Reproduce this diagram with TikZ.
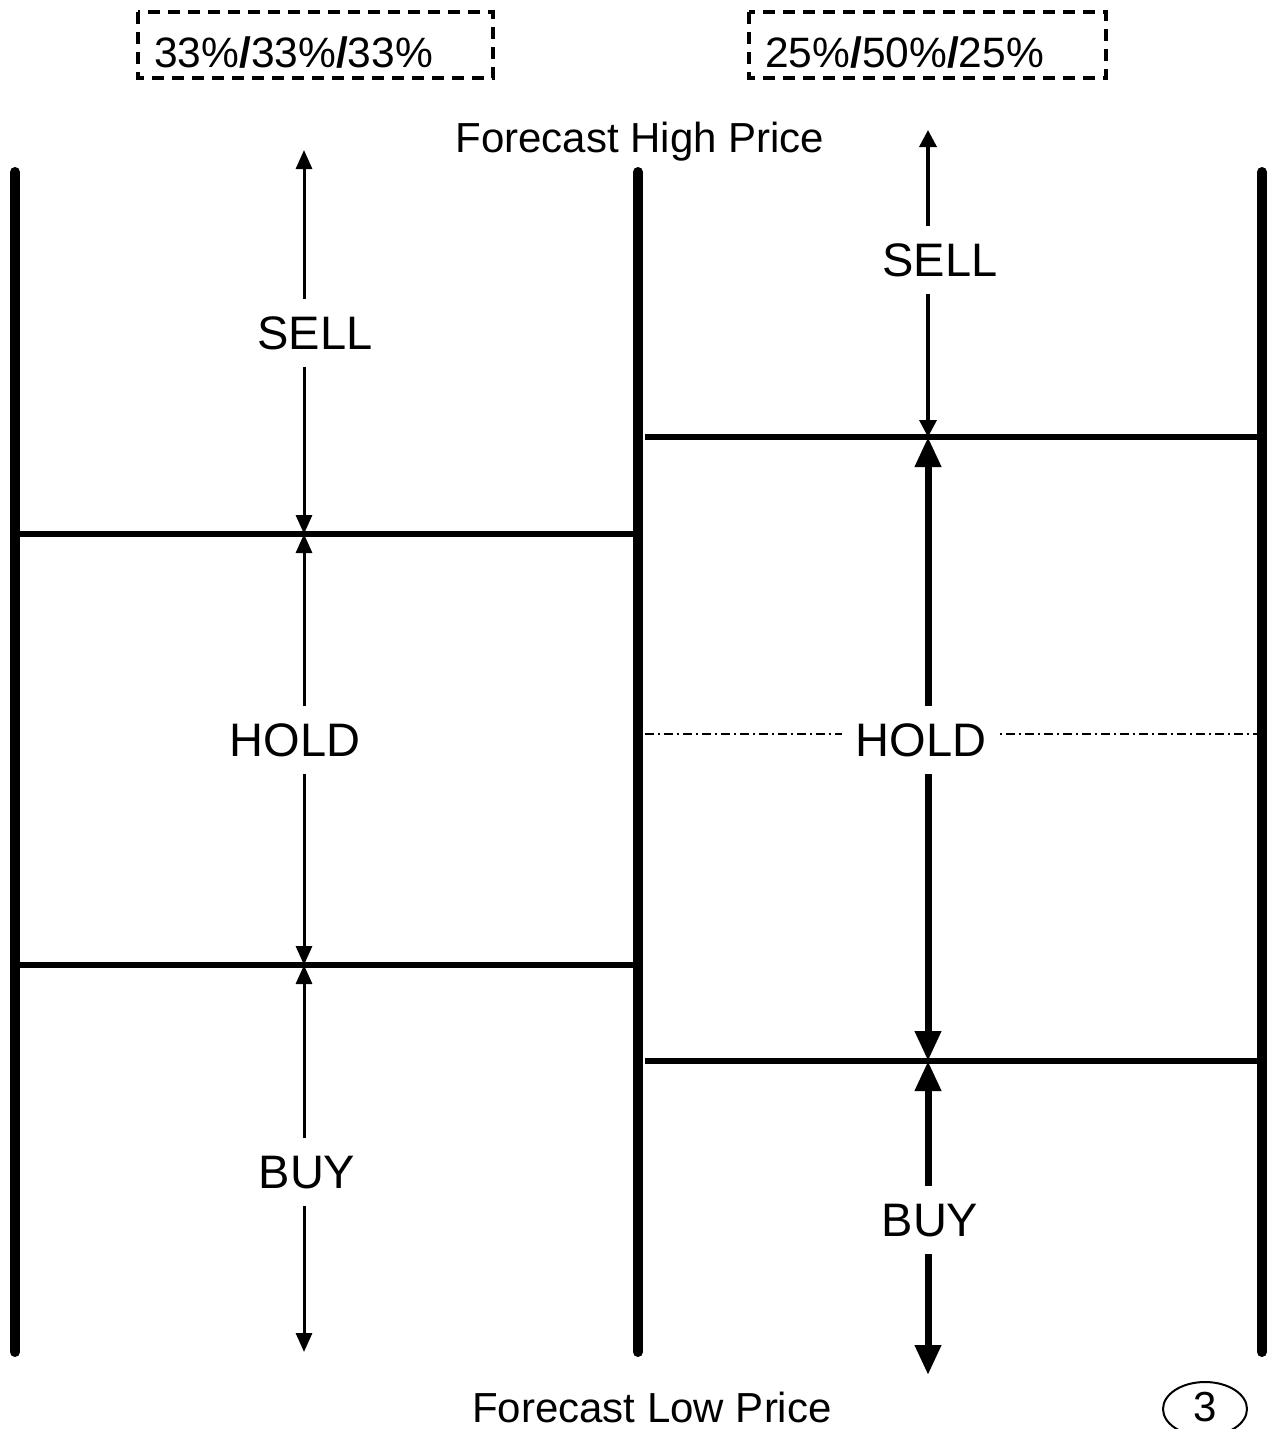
\documentclass[tikz,border=0pt]{standalone}
\usepackage{fontspec}
\setmainfont{Liberation Sans}
\usetikzlibrary{arrows.meta,shapes.geometric}
\tikzset{
  post/.style={line width=10pt,line cap=round},
  rung/.style={line width=6pt},
  thinarrow/.style={line width=3pt,{Triangle[width=16pt,length=19pt]}-{Triangle[width=16pt,length=19pt]}},
  thickarrow/.style={line width=7pt,{Triangle[width=25pt,length=30pt]}-{Triangle[width=25pt,length=30pt]}},
  lbl/.style={fill=white,inner xsep=14pt,inner ysep=18pt,font=\fontsize{47}{56}\selectfont,text depth=0pt},
  plain/.style={inner sep=0pt,font=\fontsize{42}{50}\selectfont},
  pctbox/.style={draw,line width=4pt,dash pattern=on 12pt off 8pt},
}
\begin{document}
\begin{tikzpicture}[x=1pt,y=-1pt]
\useasboundingbox (0,0) rectangle (1272,1429);
% percentage boxes
\draw[pctbox] (138,12) rectangle (493,78);
\draw[pctbox] (749,12) rectangle (1106,78);
\node[plain,anchor=base west,font=\fontsize{42.5}{50}\selectfont] (p1) at (154,67) {33\%\textbf{/}33\%\textbf{/}33\%};
\node[plain,anchor=base west,font=\fontsize{42.5}{50}\selectfont] (p2) at (765,67) {25\%\textbf{/}50\%\textbf{/}25\%};
% titles
\node[plain,anchor=base] (hi) at (640,152) {Forecast High Price};
\node[plain,anchor=base] (lo) at (652,1422) {Forecast Low Price};
% posts
\coordinate (L1) at (15,172); \coordinate (L2) at (15,1352);
\coordinate (M1) at (638,172); \coordinate (M2) at (638,1352);
\coordinate (R1) at (1262,172); \coordinate (R2) at (1262,1352);
\draw[post] (L1) -- (L2);
\draw[post] (M1) -- (M2);
\draw[post] (R1) -- (R2);
% rungs
\coordinate (la) at (15,534); \coordinate (lb) at (635,534);
\coordinate (lc) at (15,965); \coordinate (ld) at (635,965);
\coordinate (ra) at (645,437); \coordinate (rb) at (1262,437);
\coordinate (rc) at (645,1061); \coordinate (rd) at (1262,1061);
\draw[rung] (la) -- (lb);
\draw[rung] (lc) -- (ld);
\draw[rung] (ra) -- (rb);
\draw[rung] (rc) -- (rd);
% dash-dot midline
\coordinate (ma) at (645,734); \coordinate (mb) at (1262,734);
\draw[line width=1.5pt,dash pattern=on 9pt off 4pt on 2pt off 4pt] (ma) -- (mb);
% left arrows
\coordinate (a0) at (304,150); \coordinate (a1) at (304,534);
\coordinate (a2) at (304,965); \coordinate (a3) at (304,1352);
\draw[thinarrow] (a0) -- (a1);
\draw[thinarrow] (a1) -- (a2);
\draw[thinarrow] (a2) -- (a3);
% right arrows
\coordinate (b0) at (928,130); \coordinate (b1) at (928,437);
\coordinate (b2) at (928,1061); \coordinate (b3) at (928,1375);
\draw[line width=3.5pt,{Triangle[width=17pt,length=17pt]}-{Triangle[width=17pt,length=17pt]}] (b0) -- (b1);
\draw[thickarrow] (b1) -- (b2);
\draw[thickarrow] (b2) -- (b3);
% labels
\node[lbl] (sl) at (315,333) {SELL};
\node[lbl] (hl) at (295,740) {HOLD};
\node[lbl] (bl) at (307,1172) {BUY};
\node[lbl] (sr) at (940,260) {SELL};
\node[lbl] (hr) at (921,740) {HOLD};
\node[lbl] (br) at (930,1220) {BUY};
% page number
\coordinate (pc) at (1205,1409);
\draw[line width=2pt] (pc) ellipse [x radius=42pt, y radius=27pt];
\node[plain,anchor=base] (pg) at (1205,1421) {3};
\end{tikzpicture}
\end{document}
